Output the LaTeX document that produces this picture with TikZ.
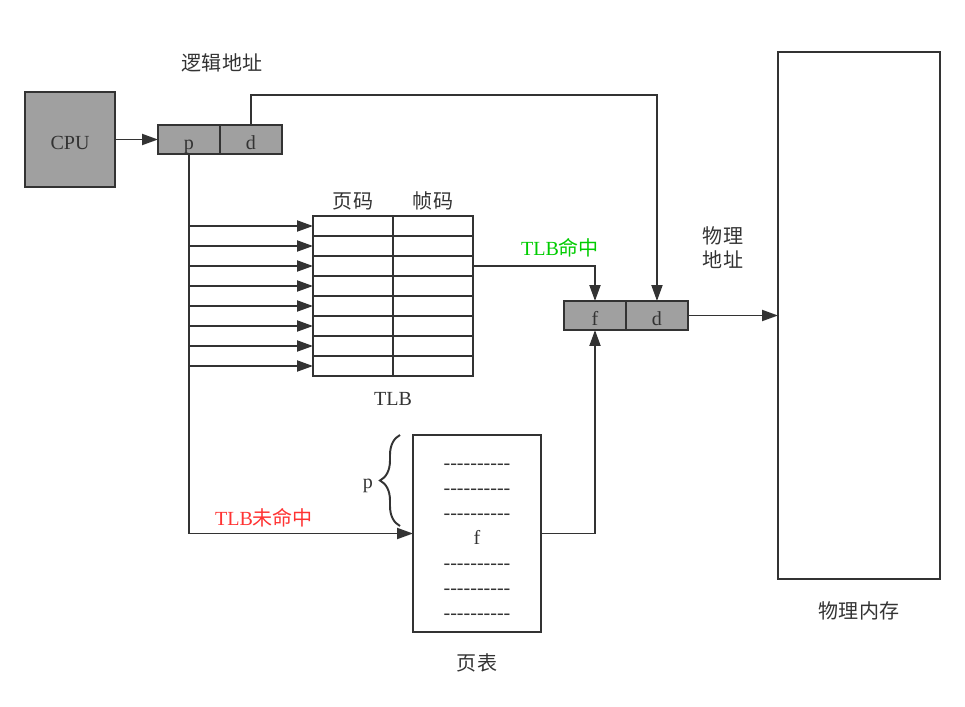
\documentclass[tikz,border=0pt]{standalone}
\usepackage{fontspec}
\setmainfont{Liberation Serif}
\newfontfamily\cjk{Noto Sans CJK SC}
\usepackage{tikz}
\usetikzlibrary{calc}
\usetikzlibrary{positioning}
\usetikzlibrary{arrows.meta}
\usetikzlibrary{decorations.pathreplacing}
\definecolor{ink}{HTML}{333333}
\definecolor{cellgray}{HTML}{A0A0A0}
\definecolor{hitgreen}{HTML}{00CC00}
\definecolor{missred}{HTML}{FF3333}
\newcommand{\sz}{\fontsize{11.4}{13.7}\selectfont}
\newcommand{\dashchar}{\mbox{-}}
\newcommand{\dashrow}{\dashchar\dashchar\dashchar\dashchar\dashchar\dashchar\dashchar\dashchar\dashchar\dashchar}
\tikzstyle{box} = [draw=ink, line width=1.3pt, inner sep=0pt, outer sep=0pt]
\tikzstyle{graybox} = [box, fill=cellgray, text height=2.8ex, text depth=0.25ex]
\tikzstyle{addrcell} = [graybox, minimum width=1.24cm, minimum height=0.58cm]
\tikzstyle{tlbcell} = [box, minimum width=1.6cm, minimum height=0.4cm]
\tikzstyle{zhtext} = [font=\cjk\sz, align=center]
\tikzstyle{conn} = [draw=ink, line width=1.1pt, -{Triangle[length=0.32cm, width=0.22cm]}]

\begin{document}
\begin{tikzpicture}[x=0.02cm, y=-0.02cm, every node/.style={font=\sz, text=ink}]
    \useasboundingbox (0,0) rectangle (965,707);

    % logical address
    \node[graybox, minimum width=1.8cm, minimum height=1.9cm] (cpu) at (70,139.5) {CPU};
    \node[addrcell] (la_p) at ($(cpu)+(119,0)$) {p};
    \node[addrcell, right=0pt of la_p] (la_d) {d};
    \node[zhtext] (la_txt) at (222,63) {逻辑地址};
    \draw[conn] (cpu) -- (la_p);

    % TLB
    \foreach \i in {1,...,8} {
        \node[tlbcell] (tlb_pg\i) at (353,206+20*\i) {};
        \node[tlbcell, right=0pt of tlb_pg\i] (tlb_fr\i) {};
        \draw[conn] (la_p.south |- tlb_pg\i.west) -- (tlb_pg\i.west);
    }
    \node[zhtext] (tlb_pg_txt) at (353,201) {页码};
    \node[zhtext] (tlb_fr_txt) at (433,201) {帧码};
    \node (tlb_txt) at (393,399) {TLB};

    % physical address
    \node[addrcell] (pa_f) at (595,315.5) {f};
    \node[addrcell, right=0pt of pa_f] (pa_d) {d};
    \node[zhtext] (pa_txt) at (723,248) {物理\\地址};

    % memory
    \node[box, minimum width=3.24cm, minimum height=10.54cm] (mem) at (859,315.5) {};
    \node[zhtext] (mem_txt) at (859,611) {物理内存};

    % page table
    \node[box, minimum width=2.56cm, minimum height=3.94cm] (ptab) at (477,533.5) {};
    \node[align=center, font=\fontsize{11.4}{14.2}\selectfont] (ptab_rows) at (477,542)
        {\dashrow\\\dashrow\\\dashrow\\f\\\dashrow\\\dashrow\\\dashrow};
    \node[zhtext] (ptab_txt) at (477,663) {页表};
    \coordinate (br_top) at (400,435);
    \coordinate (br_bot) at (400,526);
    \draw[ink, line width=1.1pt, decorate, decoration={brace, amplitude=0.4cm}] (br_bot) -- (br_top);
    \node (br_p) at (368,486) {p};

    % connectors
    \draw[conn] (la_d.north) -- (la_d.north |- 0,95) -| (pa_d.north);
    \draw[conn] (la_p.south) |- (ptab.west);
    \node[text=missred] (miss_txt) at (264,518) {TLB{\cjk 未命中}};
    \draw[conn] (tlb_fr3.east) -| (pa_f.north);
    \node[text=hitgreen] (hit_txt) at (560,248) {TLB{\cjk 命中}};
    \draw[conn] (ptab.east) -| (pa_f.south);
    \draw[conn] (pa_d) -- (mem);
\end{tikzpicture}
\end{document}
